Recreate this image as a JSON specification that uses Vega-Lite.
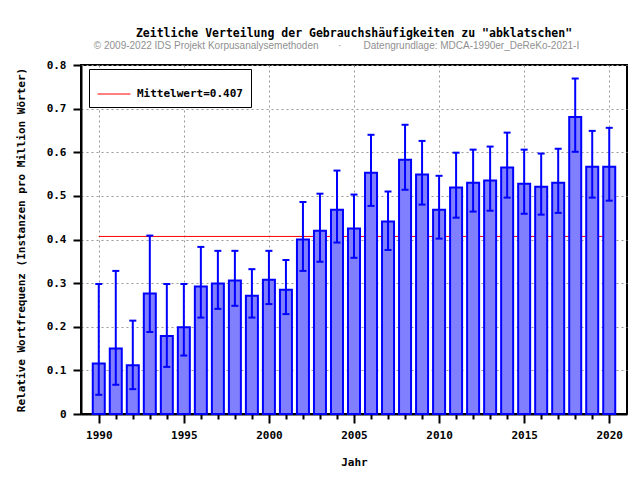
{
  "$schema": "https://vega.github.io/schema/vega-lite/v6.json",
  "autosize": {"type": "none"},
  "width": 546,
  "height": 349,
  "padding": {"left": 81, "top": 65, "right": 13, "bottom": 66},
  "background": "white",
  "title": {
    "text": "Zeitliche Verteilung der Gebrauchshäufigkeiten zu \"abklatschen\"",
    "subtitle": "© 2009-2022 IDS Projekt Korpusanalysemethoden\u00a0\u00a0\u00a0\u00a0\u00a0\u00a0\u00a0·\u00a0\u00a0\u00a0\u00a0\u00a0\u00a0\u00a0\u00a0Datengrundlage: MDCA-1990er_DeReKo-2021-I\u2800\u2800\u2800\u2800\u2800",
    "anchor": "middle",
    "font": "DejaVu Sans Mono",
    "fontSize": 11.5,
    "fontWeight": "bold",
    "color": "black",
    "subtitleFont": "Liberation Sans",
    "subtitleFontSize": 10,
    "subtitleColor": "#909090",
    "subtitlePadding": 2,
    "offset": 8
  },
  "config": {
    "view": {"stroke": "black", "strokeWidth": 2},
    "axis": {
      "labelFont": "DejaVu Sans Mono",
      "labelFontWeight": "bold",
      "labelFontSize": 11,
      "labelColor": "black",
      "titleFont": "DejaVu Sans Mono",
      "titleFontWeight": "bold",
      "titleFontSize": 11,
      "titleColor": "black",
      "domainColor": "black",
      "domainWidth": 2,
      "tickColor": "black",
      "tickWidth": 2,
      "gridColor": "#999999",
      "gridDash": [2, 3],
      "gridWidth": 1,
      "labelOverlap": false,
      "labelFlush": false
    }
  },
  "data": {
    "values": [
      {"year": 1990, "value": 0.116, "lo": 0.044, "hi": 0.298},
      {"year": 1991, "value": 0.150, "lo": 0.067, "hi": 0.328},
      {"year": 1992, "value": 0.112, "lo": 0.057, "hi": 0.214},
      {"year": 1993, "value": 0.276, "lo": 0.188, "hi": 0.409},
      {"year": 1994, "value": 0.179, "lo": 0.108, "hi": 0.298},
      {"year": 1995, "value": 0.199, "lo": 0.134, "hi": 0.298},
      {"year": 1996, "value": 0.292, "lo": 0.221, "hi": 0.383},
      {"year": 1997, "value": 0.299, "lo": 0.241, "hi": 0.374},
      {"year": 1998, "value": 0.306, "lo": 0.248, "hi": 0.374},
      {"year": 1999, "value": 0.271, "lo": 0.221, "hi": 0.332},
      {"year": 2000, "value": 0.308, "lo": 0.252, "hi": 0.374},
      {"year": 2001, "value": 0.285, "lo": 0.229, "hi": 0.353},
      {"year": 2002, "value": 0.400, "lo": 0.328, "hi": 0.486},
      {"year": 2003, "value": 0.420, "lo": 0.349, "hi": 0.505},
      {"year": 2004, "value": 0.468, "lo": 0.393, "hi": 0.558},
      {"year": 2005, "value": 0.425, "lo": 0.358, "hi": 0.503},
      {"year": 2006, "value": 0.553, "lo": 0.477, "hi": 0.640},
      {"year": 2007, "value": 0.441, "lo": 0.376, "hi": 0.510},
      {"year": 2008, "value": 0.583, "lo": 0.514, "hi": 0.663},
      {"year": 2009, "value": 0.549, "lo": 0.480, "hi": 0.626},
      {"year": 2010, "value": 0.468, "lo": 0.402, "hi": 0.546},
      {"year": 2011, "value": 0.519, "lo": 0.450, "hi": 0.599},
      {"year": 2012, "value": 0.530, "lo": 0.464, "hi": 0.606},
      {"year": 2013, "value": 0.535, "lo": 0.466, "hi": 0.613},
      {"year": 2014, "value": 0.565, "lo": 0.496, "hi": 0.645},
      {"year": 2015, "value": 0.528, "lo": 0.459, "hi": 0.606},
      {"year": 2016, "value": 0.521, "lo": 0.457, "hi": 0.597},
      {"year": 2017, "value": 0.530, "lo": 0.461, "hi": 0.608},
      {"year": 2018, "value": 0.681, "lo": 0.601, "hi": 0.769},
      {"year": 2019, "value": 0.567, "lo": 0.496, "hi": 0.649},
      {"year": 2020, "value": 0.567, "lo": 0.489, "hi": 0.656}
    ]
  },
  "encoding": {
    "x": {
      "field": "year",
      "type": "quantitative",
      "scale": {"domain": [1989.25, 2020.75], "nice": false, "zero": false},
      "axis": {
        "title": "Jahr",
        "values": [1990,1991,1992,1993,1994,1995,1996,1997,1998,1999,2000,2001,2002,2003,2004,2005,2006,2007,2008,2009,2010,2011,2012,2013,2014,2015,2016,2017,2018,2019,2020],
        "labelExpr": "datum.value % 5 == 0 ? format(datum.value, 'd') : ''",
        "tickSize": {"condition": {"test": "datum.value % 5 == 0", "value": 9}, "value": 5},
        "gridOpacity": {"condition": {"test": "datum.value % 5 == 0", "value": 1}, "value": 0},
        "labelPadding": 6,
        "titlePadding": 16,
        "labelFlush": false,
        "labelOverlap": false
      }
    }
  },
  "layer": [
    {
      "data": {"values": [{"year": 1990, "x2": 2020, "mean": 0.407, "label": "Mittelwert=0.407"}]},
      "mark": {"type": "rule", "strokeWidth": 1},
      "encoding": {
        "x2": {"field": "x2"},
        "y": {
          "field": "mean",
          "type": "quantitative",
          "scale": {"domain": [0, 0.8], "nice": false},
          "axis": {
            "title": "Relative Wortfrequenz (Instanzen pro Million Wörter)",
            "values": [0,0.05,0.1,0.15,0.2,0.25,0.3,0.35,0.4,0.45,0.5,0.55,0.6,0.65,0.7,0.75,0.8],
            "labelExpr": "round(datum.value*100) % 10 == 0 ? (datum.value == 0 ? '0' : format(datum.value, '.1f')) : ''",
            "tickSize": {"condition": {"test": "round(datum.value*100) % 10 == 0", "value": 8}, "value": 5},
            "gridOpacity": {"condition": {"test": "round(datum.value*100) % 10 == 0", "value": 1}, "value": 0},
            "labelPadding": 7,
            "titlePadding": 20,
            "labelFlush": false,
            "labelOverlap": false
          }
        },
        "color": {
          "field": "label",
          "type": "nominal",
          "scale": {"range": ["#ff0000"]},
          "legend": {
            "title": null,
            "orient": "none",
            "legendX": 8,
            "legendY": 4,
            "padding": 8,
            "strokeColor": "black",
            "fillColor": "white",
            "symbolType": "stroke",
            "symbolSize": 1089,
            "symbolStrokeWidth": 1,
            "labelFont": "DejaVu Sans Mono",
            "labelFontWeight": "bold",
            "labelFontSize": 11,
            "labelColor": "black",
            "labelOffset": 6
          }
        }
      }
    },
    {
      "mark": {"type": "bar", "size": 12, "fill": "#8080ff", "stroke": "#0000ff", "strokeWidth": 2},
      "encoding": {
        "y": {"field": "value", "type": "quantitative"}
      }
    },
    {
      "mark": {"type": "rule", "color": "#0000ff", "strokeWidth": 2},
      "encoding": {
        "y": {"field": "lo", "type": "quantitative"},
        "y2": {"field": "hi"}
      }
    },
    {
      "mark": {"type": "tick", "orient": "horizontal", "color": "#0000ff", "size": 7, "thickness": 2, "opacity": 1},
      "encoding": {
        "y": {"field": "lo", "type": "quantitative"}
      }
    },
    {
      "mark": {"type": "tick", "orient": "horizontal", "color": "#0000ff", "size": 7, "thickness": 2, "opacity": 1},
      "encoding": {
        "y": {"field": "hi", "type": "quantitative"}
      }
    }
  ]
}
